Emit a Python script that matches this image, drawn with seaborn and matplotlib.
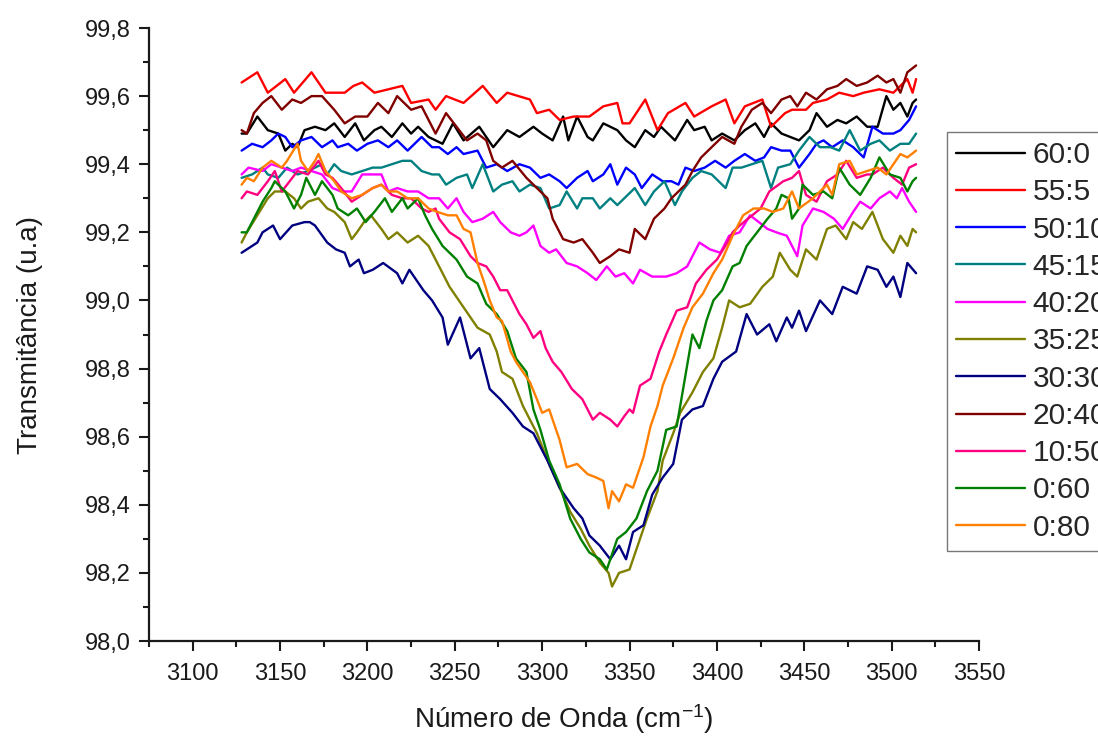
import numpy as np
import pandas as pd
import matplotlib
matplotlib.use("Agg")
import matplotlib.pyplot as plt
from matplotlib.ticker import MultipleLocator, FuncFormatter
import seaborn as sns

# ---------------- data ----------------
labels = ["60:0", "55:5", "50:10", "45:15", "40:20", "35:25",
          "30:30", "20:40", "10:50", "0:60", "0:80"]
colors = ["#000000", "#FF0000", "#0000FF", "#008080", "#FF00FF", "#808000",
          "#000080", "#800000", "#FF0080", "#008000", "#FF8000"]

wn_60_0 = [3128, 3131, 3137, 3143, 3149, 3153, 3157, 3160, 3164, 3170, 3176, 3181, 3187, 3193, 3198, 3204, 3208, 3214, 3220, 3225, 3229, 3235, 3243, 3249, 3255, 3264, 3272, 3280, 3287, 3295, 3300, 3306, 3312, 3315, 3320, 3326, 3329, 3335, 3343, 3348, 3353, 3359, 3364, 3368, 3376, 3383, 3387, 3393, 3397, 3403, 3410, 3416, 3422, 3427, 3431, 3437, 3442, 3447, 3453, 3457, 3463, 3469, 3474, 3480, 3486, 3492, 3497, 3501, 3505, 3509, 3512, 3514]
t_60_0 = [99.49, 99.49, 99.54, 99.50, 99.49, 99.44, 99.46, 99.45, 99.50, 99.51, 99.50, 99.52, 99.48, 99.52, 99.47, 99.50, 99.51, 99.48, 99.52, 99.49, 99.51, 99.48, 99.46, 99.52, 99.47, 99.51, 99.45, 99.50, 99.48, 99.51, 99.49, 99.47, 99.54, 99.47, 99.54, 99.48, 99.47, 99.52, 99.50, 99.47, 99.45, 99.50, 99.48, 99.51, 99.47, 99.53, 99.50, 99.51, 99.47, 99.49, 99.47, 99.50, 99.52, 99.48, 99.52, 99.49, 99.48, 99.47, 99.50, 99.55, 99.51, 99.53, 99.52, 99.54, 99.51, 99.51, 99.60, 99.56, 99.58, 99.54, 99.58, 99.59]

wn_55_5 = [3128, 3137, 3143, 3153, 3158, 3168, 3176, 3187, 3192, 3197, 3204, 3220, 3225, 3235, 3239, 3245, 3255, 3266, 3274, 3280, 3293, 3297, 3304, 3310, 3318, 3327, 3335, 3343, 3346, 3350, 3359, 3366, 3372, 3382, 3387, 3397, 3405, 3410, 3416, 3426, 3431, 3439, 3443, 3451, 3455, 3463, 3470, 3478, 3484, 3493, 3501, 3509, 3512, 3514]
t_55_5 = [99.64, 99.67, 99.61, 99.65, 99.61, 99.67, 99.61, 99.61, 99.63, 99.64, 99.61, 99.63, 99.58, 99.59, 99.56, 99.60, 99.58, 99.63, 99.58, 99.61, 99.59, 99.55, 99.56, 99.53, 99.54, 99.54, 99.57, 99.58, 99.52, 99.52, 99.59, 99.50, 99.55, 99.58, 99.54, 99.57, 99.59, 99.52, 99.57, 99.59, 99.51, 99.55, 99.56, 99.56, 99.58, 99.59, 99.61, 99.60, 99.61, 99.62, 99.61, 99.65, 99.61, 99.65]

wn_50_10 = [3128, 3134, 3140, 3145, 3149, 3153, 3157, 3162, 3168, 3174, 3180, 3183, 3189, 3194, 3200, 3206, 3212, 3217, 3223, 3231, 3237, 3241, 3246, 3251, 3255, 3263, 3268, 3274, 3280, 3287, 3293, 3299, 3304, 3310, 3314, 3320, 3326, 3329, 3335, 3339, 3343, 3348, 3353, 3357, 3363, 3369, 3374, 3378, 3382, 3387, 3393, 3399, 3405, 3410, 3416, 3422, 3427, 3431, 3437, 3442, 3447, 3453, 3457, 3461, 3466, 3472, 3478, 3484, 3489, 3495, 3501, 3505, 3510, 3514]
t_50_10 = [99.44, 99.46, 99.45, 99.47, 99.49, 99.48, 99.45, 99.47, 99.48, 99.45, 99.47, 99.45, 99.46, 99.44, 99.46, 99.47, 99.45, 99.47, 99.44, 99.48, 99.45, 99.45, 99.43, 99.45, 99.43, 99.44, 99.39, 99.40, 99.38, 99.40, 99.39, 99.36, 99.37, 99.35, 99.33, 99.36, 99.38, 99.35, 99.37, 99.40, 99.34, 99.39, 99.37, 99.33, 99.37, 99.35, 99.35, 99.34, 99.39, 99.38, 99.39, 99.41, 99.39, 99.41, 99.43, 99.41, 99.42, 99.45, 99.44, 99.44, 99.39, 99.43, 99.46, 99.47, 99.45, 99.47, 99.45, 99.42, 99.51, 99.49, 99.49, 99.50, 99.53, 99.57]

wn_45_15 = [3128, 3134, 3140, 3143, 3149, 3154, 3160, 3166, 3174, 3177, 3181, 3185, 3191, 3197, 3203, 3208, 3214, 3220, 3225, 3231, 3237, 3241, 3245, 3251, 3257, 3260, 3266, 3272, 3277, 3283, 3287, 3293, 3299, 3304, 3310, 3314, 3320, 3323, 3329, 3333, 3339, 3343, 3347, 3353, 3359, 3364, 3370, 3376, 3380, 3386, 3391, 3397, 3403, 3405, 3409, 3414, 3420, 3426, 3431, 3435, 3442, 3447, 3453, 3459, 3465, 3470, 3476, 3482, 3488, 3493, 3499, 3505, 3510, 3514]
t_45_15 = [99.36, 99.37, 99.39, 99.37, 99.36, 99.39, 99.37, 99.38, 99.40, 99.37, 99.40, 99.38, 99.37, 99.38, 99.39, 99.39, 99.40, 99.41, 99.41, 99.38, 99.37, 99.37, 99.34, 99.36, 99.37, 99.33, 99.40, 99.32, 99.34, 99.35, 99.32, 99.34, 99.33, 99.27, 99.28, 99.32, 99.27, 99.30, 99.30, 99.27, 99.30, 99.28, 99.30, 99.33, 99.28, 99.32, 99.35, 99.28, 99.32, 99.36, 99.38, 99.37, 99.34, 99.33, 99.39, 99.39, 99.40, 99.41, 99.33, 99.39, 99.40, 99.44, 99.48, 99.45, 99.45, 99.44, 99.50, 99.44, 99.46, 99.47, 99.44, 99.46, 99.46, 99.49]

wn_40_20 = [3128, 3132, 3140, 3145, 3151, 3157, 3162, 3168, 3174, 3180, 3185, 3191, 3197, 3203, 3208, 3212, 3217, 3223, 3229, 3235, 3241, 3246, 3251, 3255, 3260, 3266, 3272, 3276, 3282, 3287, 3291, 3295, 3299, 3304, 3308, 3314, 3320, 3326, 3331, 3337, 3342, 3347, 3352, 3356, 3363, 3371, 3377, 3383, 3390, 3396, 3402, 3407, 3413, 3419, 3424, 3429, 3434, 3440, 3446, 3449, 3455, 3461, 3467, 3472, 3478, 3482, 3488, 3493, 3499, 3503, 3506, 3510, 3514]
t_40_20 = [99.37, 99.39, 99.38, 99.40, 99.39, 99.38, 99.39, 99.38, 99.37, 99.33, 99.32, 99.32, 99.37, 99.37, 99.37, 99.32, 99.33, 99.32, 99.32, 99.30, 99.30, 99.27, 99.30, 99.26, 99.23, 99.24, 99.26, 99.23, 99.20, 99.19, 99.20, 99.22, 99.16, 99.14, 99.15, 99.11, 99.10, 99.08, 99.06, 99.10, 99.07, 99.08, 99.05, 99.09, 99.07, 99.07, 99.08, 99.10, 99.17, 99.15, 99.14, 99.19, 99.20, 99.25, 99.23, 99.21, 99.20, 99.19, 99.13, 99.22, 99.27, 99.26, 99.24, 99.21, 99.26, 99.29, 99.27, 99.30, 99.32, 99.30, 99.33, 99.29, 99.26]

wn_35_25 = [3128, 3131, 3137, 3143, 3147, 3153, 3158, 3162, 3166, 3172, 3177, 3181, 3187, 3191, 3194, 3198, 3202, 3208, 3212, 3217, 3223, 3229, 3235, 3239, 3247, 3255, 3263, 3270, 3274, 3277, 3283, 3289, 3297, 3304, 3310, 3316, 3322, 3327, 3333, 3338, 3340, 3344, 3350, 3354, 3360, 3366, 3369, 3375, 3379, 3386, 3392, 3398, 3403, 3407, 3413, 3419, 3426, 3432, 3436, 3442, 3446, 3451, 3457, 3463, 3468, 3474, 3478, 3483, 3489, 3495, 3501, 3505, 3509, 3512, 3514]
t_35_25 = [99.17, 99.20, 99.25, 99.30, 99.32, 99.32, 99.30, 99.27, 99.29, 99.30, 99.27, 99.26, 99.23, 99.18, 99.20, 99.23, 99.25, 99.21, 99.18, 99.20, 99.17, 99.19, 99.16, 99.12, 99.04, 98.98, 98.92, 98.90, 98.85, 98.79, 98.77, 98.69, 98.61, 98.52, 98.45, 98.38, 98.33, 98.28, 98.23, 98.20, 98.16, 98.20, 98.21, 98.27, 98.36, 98.44, 98.53, 98.61, 98.67, 98.73, 98.79, 98.83, 98.92, 99.00, 98.98, 98.99, 99.04, 99.07, 99.14, 99.09, 99.07, 99.15, 99.12, 99.21, 99.22, 99.18, 99.23, 99.21, 99.26, 99.18, 99.14, 99.19, 99.16, 99.21, 99.20]

wn_30_30 = [3128, 3131, 3137, 3140, 3146, 3150, 3157, 3164, 3167, 3170, 3177, 3182, 3187, 3190, 3195, 3198, 3203, 3209, 3217, 3220, 3224, 3232, 3237, 3243, 3246, 3253, 3259, 3264, 3270, 3276, 3283, 3289, 3295, 3303, 3310, 3318, 3323, 3327, 3333, 3339, 3344, 3348, 3352, 3358, 3363, 3369, 3375, 3380, 3386, 3392, 3398, 3403, 3411, 3417, 3423, 3430, 3434, 3440, 3443, 3447, 3451, 3459, 3466, 3472, 3480, 3486, 3492, 3497, 3501, 3505, 3509, 3514]
t_30_30 = [99.14, 99.15, 99.17, 99.20, 99.22, 99.18, 99.22, 99.23, 99.23, 99.22, 99.17, 99.15, 99.14, 99.10, 99.12, 99.08, 99.09, 99.11, 99.08, 99.05, 99.09, 99.03, 99.00, 98.95, 98.87, 98.95, 98.83, 98.86, 98.74, 98.71, 98.67, 98.63, 98.61, 98.53, 98.45, 98.39, 98.36, 98.31, 98.28, 98.24, 98.28, 98.24, 98.32, 98.34, 98.43, 98.48, 98.52, 98.65, 98.68, 98.69, 98.77, 98.82, 98.85, 98.96, 98.90, 98.93, 98.88, 98.95, 98.92, 98.97, 98.91, 99.00, 98.96, 99.04, 99.02, 99.10, 99.09, 99.04, 99.07, 99.01, 99.11, 99.08]

wn_20_40 = [3128, 3131, 3135, 3140, 3145, 3151, 3157, 3162, 3168, 3174, 3181, 3187, 3193, 3200, 3206, 3212, 3217, 3225, 3231, 3239, 3245, 3251, 3257, 3263, 3268, 3272, 3277, 3283, 3291, 3297, 3303, 3306, 3312, 3318, 3323, 3329, 3333, 3339, 3344, 3350, 3353, 3359, 3364, 3370, 3374, 3378, 3382, 3386, 3391, 3397, 3403, 3410, 3414, 3420, 3426, 3431, 3437, 3442, 3446, 3451, 3457, 3463, 3469, 3474, 3480, 3486, 3492, 3497, 3501, 3505, 3509, 3514]
t_20_40 = [99.50, 99.49, 99.55, 99.58, 99.60, 99.56, 99.59, 99.58, 99.60, 99.60, 99.56, 99.52, 99.54, 99.54, 99.58, 99.55, 99.60, 99.56, 99.57, 99.49, 99.55, 99.51, 99.47, 99.49, 99.47, 99.41, 99.39, 99.41, 99.36, 99.33, 99.30, 99.24, 99.18, 99.17, 99.18, 99.14, 99.11, 99.13, 99.15, 99.14, 99.21, 99.18, 99.24, 99.27, 99.30, 99.32, 99.34, 99.38, 99.42, 99.45, 99.48, 99.46, 99.51, 99.56, 99.58, 99.55, 99.59, 99.60, 99.57, 99.61, 99.59, 99.62, 99.63, 99.65, 99.63, 99.64, 99.66, 99.64, 99.65, 99.61, 99.67, 99.69]

wn_10_50 = [3128, 3131, 3137, 3143, 3147, 3151, 3154, 3160, 3166, 3172, 3176, 3180, 3185, 3191, 3197, 3203, 3208, 3214, 3220, 3225, 3231, 3235, 3239, 3241, 3247, 3253, 3259, 3263, 3268, 3272, 3276, 3280, 3283, 3287, 3291, 3295, 3299, 3302, 3306, 3311, 3317, 3323, 3329, 3333, 3339, 3343, 3347, 3350, 3352, 3356, 3362, 3367, 3371, 3377, 3383, 3388, 3394, 3400, 3406, 3409, 3413, 3425, 3430, 3438, 3443, 3447, 3451, 3457, 3463, 3469, 3474, 3480, 3486, 3489, 3495, 3501, 3506, 3510, 3514]
t_10_50 = [99.30, 99.32, 99.31, 99.35, 99.38, 99.32, 99.34, 99.38, 99.37, 99.41, 99.37, 99.36, 99.33, 99.29, 99.31, 99.33, 99.34, 99.31, 99.30, 99.30, 99.27, 99.26, 99.27, 99.24, 99.20, 99.18, 99.13, 99.11, 99.10, 99.07, 99.03, 99.03, 99.00, 98.96, 98.93, 98.89, 98.91, 98.86, 98.82, 98.79, 98.74, 98.71, 98.65, 98.67, 98.65, 98.63, 98.66, 98.68, 98.67, 98.75, 98.77, 98.85, 98.90, 98.97, 98.98, 99.05, 99.09, 99.12, 99.17, 99.20, 99.22, 99.27, 99.32, 99.35, 99.36, 99.38, 99.31, 99.29, 99.35, 99.37, 99.41, 99.36, 99.37, 99.37, 99.39, 99.36, 99.34, 99.39, 99.40]

wn_0_60 = [3128, 3131, 3136, 3140, 3145, 3147, 3153, 3158, 3162, 3165, 3170, 3174, 3180, 3183, 3189, 3194, 3199, 3204, 3210, 3214, 3220, 3223, 3229, 3233, 3237, 3243, 3251, 3257, 3263, 3268, 3274, 3280, 3285, 3291, 3295, 3299, 3304, 3310, 3316, 3322, 3327, 3333, 3337, 3343, 3348, 3354, 3360, 3366, 3371, 3377, 3381, 3386, 3390, 3394, 3398, 3403, 3409, 3413, 3417, 3423, 3429, 3434, 3437, 3441, 3443, 3447, 3449, 3455, 3461, 3466, 3470, 3476, 3482, 3488, 3493, 3499, 3505, 3509, 3512, 3514]
t_0_60 = [99.20, 99.20, 99.25, 99.29, 99.33, 99.35, 99.32, 99.27, 99.31, 99.36, 99.31, 99.35, 99.31, 99.27, 99.25, 99.27, 99.23, 99.26, 99.30, 99.26, 99.30, 99.27, 99.30, 99.25, 99.21, 99.16, 99.12, 99.07, 99.05, 98.99, 98.96, 98.91, 98.83, 98.79, 98.68, 98.62, 98.53, 98.46, 98.36, 98.30, 98.26, 98.24, 98.21, 98.30, 98.32, 98.36, 98.44, 98.50, 98.62, 98.63, 98.75, 98.90, 98.86, 98.94, 99.00, 99.03, 99.10, 99.11, 99.16, 99.20, 99.24, 99.27, 99.31, 99.30, 99.24, 99.27, 99.34, 99.31, 99.32, 99.30, 99.39, 99.34, 99.31, 99.36, 99.42, 99.37, 99.36, 99.32, 99.35, 99.36]

wn_0_80 = [3128, 3131, 3135, 3140, 3145, 3151, 3154, 3160, 3162, 3166, 3170, 3172, 3176, 3181, 3185, 3191, 3197, 3203, 3208, 3212, 3217, 3223, 3229, 3235, 3240, 3246, 3251, 3255, 3259, 3263, 3267, 3270, 3274, 3277, 3282, 3285, 3289, 3293, 3297, 3300, 3304, 3310, 3314, 3320, 3326, 3331, 3335, 3338, 3340, 3344, 3348, 3352, 3358, 3362, 3366, 3369, 3375, 3381, 3386, 3392, 3398, 3403, 3409, 3415, 3421, 3427, 3432, 3438, 3443, 3447, 3455, 3463, 3466, 3470, 3476, 3480, 3486, 3492, 3497, 3505, 3509, 3514]
t_0_80 = [99.34, 99.36, 99.35, 99.39, 99.41, 99.39, 99.41, 99.46, 99.41, 99.38, 99.41, 99.43, 99.38, 99.35, 99.32, 99.30, 99.31, 99.33, 99.34, 99.32, 99.32, 99.30, 99.30, 99.27, 99.26, 99.25, 99.25, 99.21, 99.20, 99.11, 99.05, 99.00, 98.95, 98.94, 98.85, 98.82, 98.79, 98.76, 98.71, 98.67, 98.68, 98.59, 98.51, 98.52, 98.49, 98.48, 98.47, 98.39, 98.44, 98.41, 98.46, 98.45, 98.54, 98.63, 98.69, 98.75, 98.83, 98.92, 98.98, 99.02, 99.08, 99.12, 99.19, 99.25, 99.27, 99.27, 99.26, 99.27, 99.32, 99.27, 99.30, 99.34, 99.31, 99.40, 99.41, 99.37, 99.38, 99.39, 99.37, 99.43, 99.42, 99.44]

series_wn = [wn_60_0, wn_55_5, wn_50_10, wn_45_15, wn_40_20, wn_35_25,
             wn_30_30, wn_20_40, wn_10_50, wn_0_60, wn_0_80]
series_t = [t_60_0, t_55_5, t_50_10, t_45_15, t_40_20, t_35_25,
            t_30_30, t_20_40, t_10_50, t_0_60, t_0_80]

x_ticks = [3100, 3150, 3200, 3250, 3300, 3350, 3400, 3450, 3500, 3550]
y_ticks = [98.0, 98.2, 98.4, 98.6, 98.8, 99.0, 99.2, 99.4, 99.6, 99.8]

# ---------------- build long table ----------------
frames = []
for lab, wn, t in zip(labels, series_wn, series_t):
    frames.append(pd.DataFrame({"wn": wn, "t": t, "amostra": lab}))
df = pd.concat(frames, ignore_index=True)

# ---------------- style ----------------
sns.set_style("ticks")
plt.rcParams["font.family"] = ["Liberation Sans", "DejaVu Sans"]
plt.rcParams["mathtext.fontset"] = "custom"
plt.rcParams["mathtext.rm"] = "Liberation Sans"
plt.rcParams["mathtext.default"] = "regular"

fig = plt.figure(figsize=(10.98, 7.40), dpi=100)
ax = fig.add_axes([149 / 1098, 1 - 641 / 740, 830 / 1098, 613 / 740])

sns.lineplot(data=df, x="wn", y="t", hue="amostra", hue_order=labels,
             palette=colors, estimator=None, sort=True, linewidth=1.7,
             ax=ax, legend=True)

ax.set_xlim(3075, 3550)
ax.set_ylim(98.0, 99.8)
ax.set_xticks(x_ticks)
ax.set_yticks(y_ticks)
ax.xaxis.set_minor_locator(MultipleLocator(25))
ax.yaxis.set_minor_locator(MultipleLocator(0.1))
ax.yaxis.set_major_formatter(FuncFormatter(lambda v, p: f"{v:.1f}".replace(".", ",")))

for s in ["top", "right"]:
    ax.spines[s].set_visible(False)
for s in ["left", "bottom"]:
    ax.spines[s].set_linewidth(1.6)
    ax.spines[s].set_color("#1a1a1a")

ax.tick_params(axis="both", which="major", direction="out", length=7, width=1.5,
               labelsize=17, colors="#1a1a1a", pad=6)
ax.tick_params(axis="both", which="minor", direction="out", length=4, width=1.5,
               colors="#1a1a1a")
ax.tick_params(axis="x", which="major", pad=9)

ax.set_xlabel("Número de Onda (cm$^{-1}$)", fontsize=20, color="#1a1a1a", labelpad=12)
ax.set_ylabel("Transmitância (u.a)", fontsize=20, color="#1a1a1a", labelpad=30)

sns.move_legend(ax, loc="upper left", bbox_to_anchor=(0.9614, 0.83),
                title=None, frameon=True, fancybox=False, fontsize=21.5,
                handlelength=2.3, handletextpad=0.27, labelspacing=0.31,
                borderpad=0.3, borderaxespad=0.0)
leg = ax.get_legend()
leg.get_frame().set_edgecolor("#555555")
leg.get_frame().set_linewidth(1.0)
for line in leg.get_lines():
    line.set_linewidth(1.7)

fig.savefig("out.png", dpi=100)
